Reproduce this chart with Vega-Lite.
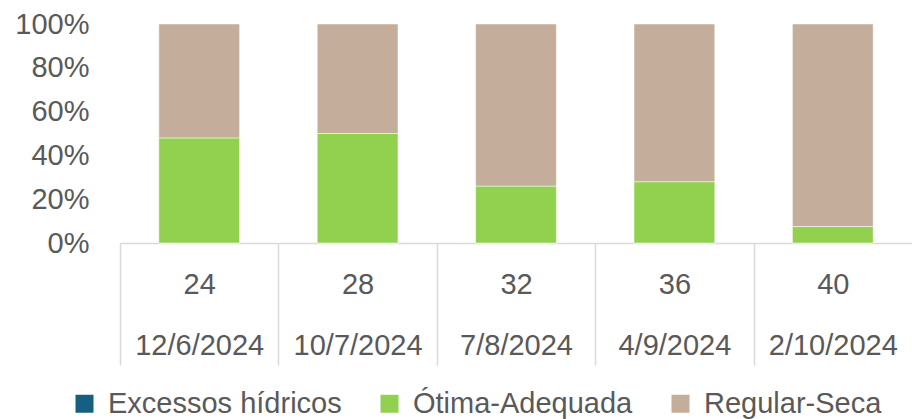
{
  "$schema": "https://vega.github.io/schema/vega-lite/v6.json",
  "autosize": "none",
  "width": 792,
  "height": 219,
  "padding": {"left": 120, "top": 24, "right": 0, "bottom": 176},
  "background": "#ffffff",
  "config": {
    "view": {"stroke": null},
    "font": "Liberation Sans",
    "axis": {"labelFont": "Liberation Sans", "labelColor": "#595959"},
    "legend": {"labelFont": "Liberation Sans", "labelColor": "#595959"}
  },
  "data": {
    "values": [
      {"rotulo": "24|12/6/2024", "categoria": "Excessos hídricos", "ordem": 0, "valor": 0},
      {"rotulo": "24|12/6/2024", "categoria": "Ótima-Adequada", "ordem": 1, "valor": 48},
      {"rotulo": "24|12/6/2024", "categoria": "Regular-Seca", "ordem": 2, "valor": 52},
      {"rotulo": "28|10/7/2024", "categoria": "Excessos hídricos", "ordem": 0, "valor": 0},
      {"rotulo": "28|10/7/2024", "categoria": "Ótima-Adequada", "ordem": 1, "valor": 50},
      {"rotulo": "28|10/7/2024", "categoria": "Regular-Seca", "ordem": 2, "valor": 50},
      {"rotulo": "32|7/8/2024", "categoria": "Excessos hídricos", "ordem": 0, "valor": 0},
      {"rotulo": "32|7/8/2024", "categoria": "Ótima-Adequada", "ordem": 1, "valor": 26},
      {"rotulo": "32|7/8/2024", "categoria": "Regular-Seca", "ordem": 2, "valor": 74},
      {"rotulo": "36|4/9/2024", "categoria": "Excessos hídricos", "ordem": 0, "valor": 0},
      {"rotulo": "36|4/9/2024", "categoria": "Ótima-Adequada", "ordem": 1, "valor": 28},
      {"rotulo": "36|4/9/2024", "categoria": "Regular-Seca", "ordem": 2, "valor": 72},
      {"rotulo": "40|2/10/2024", "categoria": "Excessos hídricos", "ordem": 0, "valor": 0},
      {"rotulo": "40|2/10/2024", "categoria": "Ótima-Adequada", "ordem": 1, "valor": 7.5},
      {"rotulo": "40|2/10/2024", "categoria": "Regular-Seca", "ordem": 2, "valor": 92.5}
    ]
  },
  "mark": {"type": "bar", "width": {"band": 0.51}, "stroke": "#ffffff", "strokeWidth": 1, "strokeOpacity": 0.5},
  "encoding": {
    "x": {
      "field": "rotulo",
      "type": "nominal",
      "sort": null,
      "title": null,
      "scale": {"paddingInner": 0, "paddingOuter": 0},
      "axis": {
        "labelAngle": 0,
        "labelExpr": "datum.value ? split(datum.value, '|') : ''",
        "labelFontSize": 29,
        "labelLineHeight": 61,
        "labelPadding": -95,
        "labelBaseline": "top",
        "tickBand": "extent",
        "tickSize": 122,
        "tickColor": "#D9D9D9",
        "tickWidth": 1.5,
        "tickOpacity": {"condition": {"test": "datum.value == '40|2/10/2024'", "value": 0}, "value": 1},
        "domainColor": "#D9D9D9",
        "domainWidth": 1.5,
        "labelOverlap": false,
        "labelBound": false
      }
    },
    "y": {
      "field": "valor",
      "type": "quantitative",
      "stack": "normalize",
      "title": null,
      "scale": {"domain": [0, 1], "nice": false},
      "axis": {
        "values": [0, 0.2, 0.4, 0.6, 0.8, 1],
        "format": ".0%",
        "grid": false,
        "domain": false,
        "ticks": false,
        "labelFontSize": 29,
        "labelPadding": 31
      }
    },
    "color": {
      "field": "categoria",
      "type": "nominal",
      "title": null,
      "scale": {
        "domain": ["Excessos hídricos", "Ótima-Adequada", "Regular-Seca"],
        "range": ["#156082", "#92D050", "#C4AE9B"]
      },
      "legend": {
        "orient": "none",
        "legendX": -50,
        "legendY": 365,
        "direction": "horizontal",
        "symbolType": "square",
        "symbolSize": 324,
        "symbolStrokeWidth": 0,
        "labelFontSize": 29,
        "labelOffset": 9,
        "columnPadding": 33,
        "labelLimit": 400
      }
    },
    "order": {"field": "ordem", "type": "quantitative"}
  }
}
